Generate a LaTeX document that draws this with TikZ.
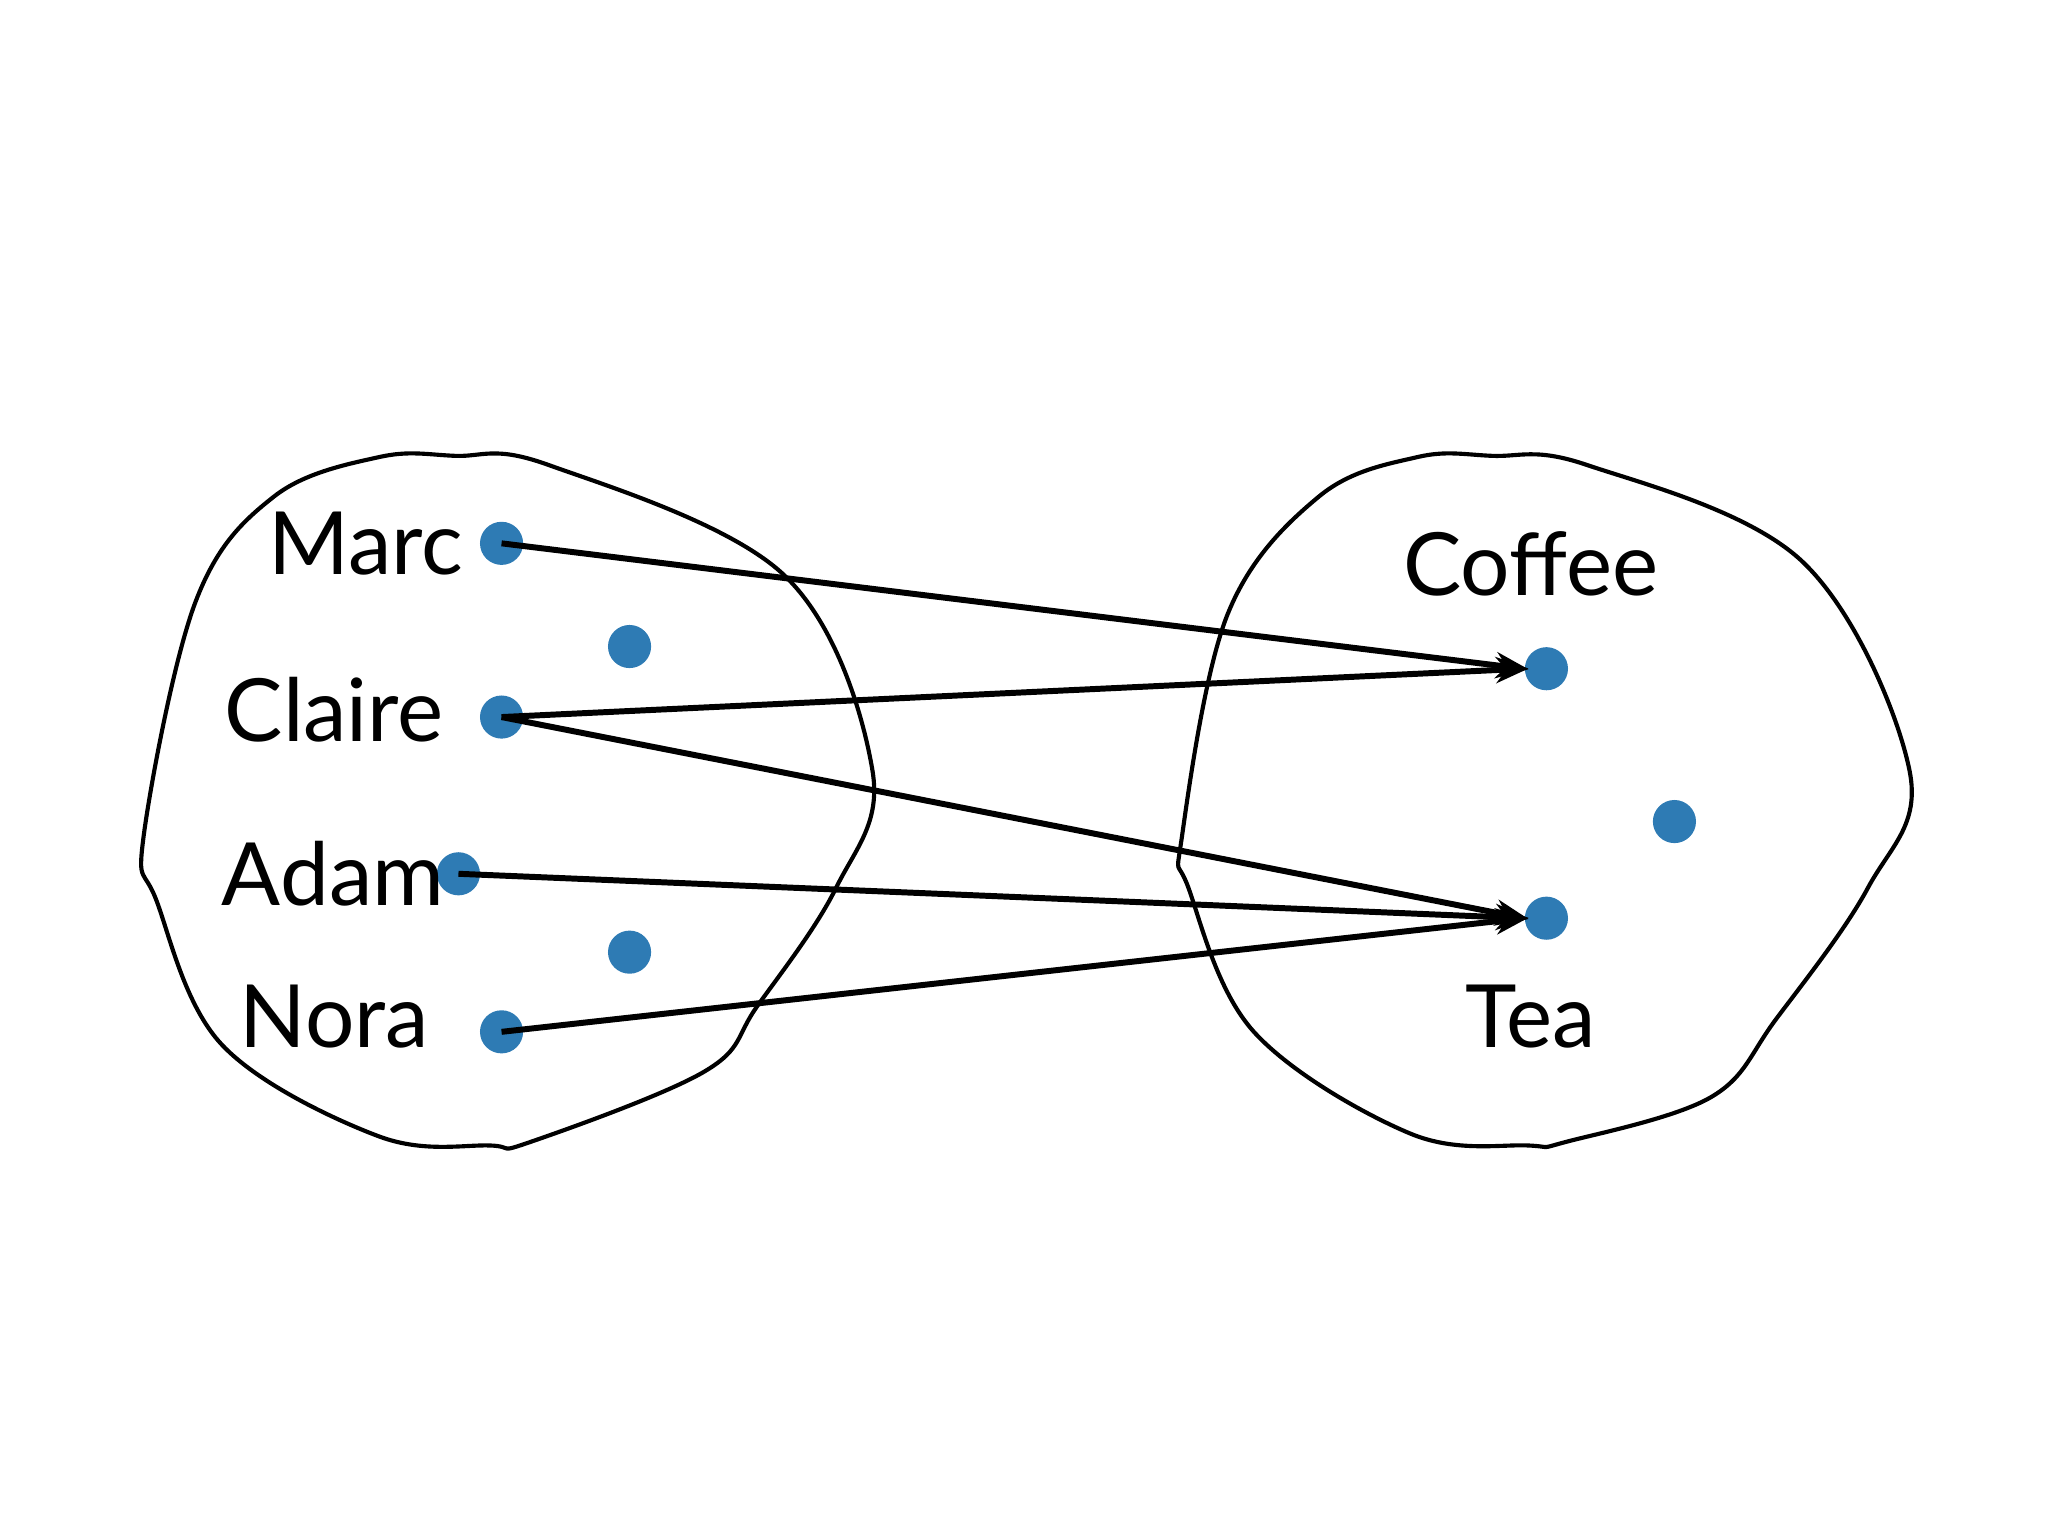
\documentclass[tikz,border=0pt]{standalone}
\usepackage{fontspec}
\setmainfont{Lato}
\usetikzlibrary{arrows.meta}
\definecolor{dotblue}{HTML}{2E7BB4}
\tikzset{
	pt/.style={circle,fill=dotblue,inner sep=0pt,minimum size=0.33cm},
	lbl/.style={font=\fontsize{19}{22}\selectfont},
	map/.style={-{Stealth[length=0.25cm,width=0.2cm]},line width=1.3pt,shorten >=-1pt},
	blob/.style={line width=0.9pt}
}
\begin{document}
\begin{tikzpicture}[x=0.01cm,y=-0.01cm]
	\useasboundingbox (0,0) rectangle (1568,1176);
	% sets
	\draw[blob] plot[smooth cycle,tension=0.6] coordinates {(290,350) (348,349) (420,356) (600,440) (668,590) (640,680) (580,770) (540,820) (407,874) (375,877) (290,870) (170,800) (120,690) (110,640) (150,460) (210,380)};
	\draw[blob] plot[smooth cycle,tension=0.6] coordinates {(1085,350) (1142,349) (1215,356) (1380,430) (1462,590) (1430,680) (1360,780) (1310,840) (1200,874) (1170,877) (1080,868) (960,790) (910,680) (905,640) (940,470) (1010,380)};
	% points
	\node[pt] (M) at (384,416) {};
	\node[pt] (X1) at (482,495) {};
	\node[pt] (C) at (384,549) {};
	\node[pt] (A) at (351,669) {};
	\node[pt] (X2) at (482,729) {};
	\node[pt] (N) at (384,790) {};
	\node[pt] (K) at (1184,512) {};
	\node[pt] (Y) at (1282,629) {};
	\node[pt] (T) at (1184,703) {};
	% labels
	\node[lbl] (lM) at (280,416) {Marc};
	\node[lbl] (lC) at (256,543) {Claire};
	\node[lbl] (lA) at (255,669) {Adam};
	\node[lbl] (lN) at (256,778) {Nora};
	\node[lbl] (lK) at (1172,432) {Coffee};
	\node[lbl] (lT) at (1172,778) {Tea};
	\path[map]
	(M.center) edge (K.west)
	(C.center) edge (K.west)
	(C.center) edge (T.west)
	(A.center) edge (T.west)
	(N.center) edge (T.west)
	;
\end{tikzpicture}
\end{document}
